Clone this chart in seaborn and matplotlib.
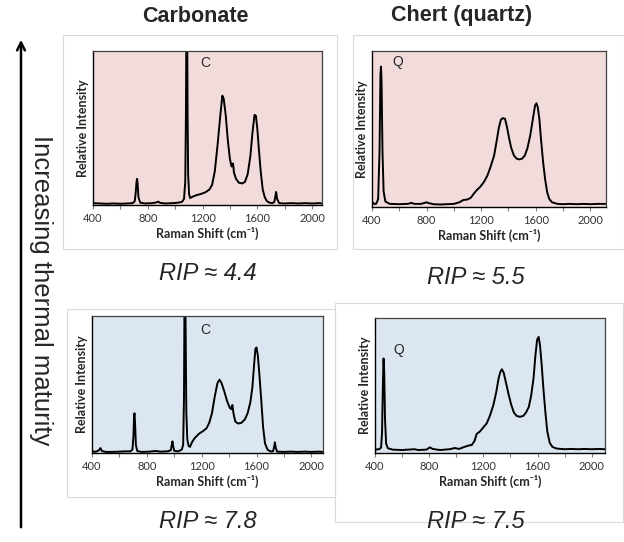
import numpy as np
import matplotlib
matplotlib.use("Agg")
import matplotlib.pyplot as plt
import seaborn as sns
from matplotlib.patches import Rectangle, FancyArrowPatch
from matplotlib.ticker import MultipleLocator

# spectra (shift in cm-1, intensity as fraction of axis height)
carb1_shift = [400, 450, 500, 550, 600, 650, 690, 705, 712, 718, 722, 726, 732, 745, 780, 830, 860, 876, 890,
               930, 980, 1020, 1050, 1065, 1074, 1079, 1082, 1085, 1088, 1091, 1095, 1102, 1110, 1130, 1160,
               1190, 1220, 1250, 1270, 1290, 1310, 1330, 1345, 1355, 1370, 1385, 1400, 1412, 1418, 1423, 1430,
               1445, 1465, 1490, 1510, 1530, 1550, 1565, 1580, 1590, 1600, 1612, 1625, 1640, 1655, 1670, 1690,
               1710, 1725, 1733, 1738, 1745, 1760, 1800, 1850, 1900, 1950, 2000, 2050, 2080]
carb1_int = [0.012, 0.010, 0.008, 0.010, 0.008, 0.010, 0.012, 0.025, 0.08, 0.15, 0.17, 0.14, 0.05, 0.015, 0.010,
             0.012, 0.016, 0.022, 0.014, 0.010, 0.012, 0.015, 0.02, 0.04, 0.15, 0.6, 1.1, 1.3, 1.2, 0.6, 0.2,
             0.07, 0.045, 0.055, 0.065, 0.072, 0.082, 0.10, 0.13, 0.22, 0.39, 0.58, 0.71, 0.69, 0.58, 0.42,
             0.30, 0.25, 0.255, 0.27, 0.21, 0.17, 0.145, 0.14, 0.15, 0.20, 0.32, 0.47, 0.585, 0.58, 0.50, 0.36,
             0.22, 0.10, 0.05, 0.025, 0.015, 0.012, 0.02, 0.06, 0.085, 0.04, 0.012, 0.010, 0.012, 0.010, 0.012,
             0.010, 0.012, 0.010]

chert1_shift = [400, 415, 430, 445, 455, 462, 466, 470, 477, 485, 498, 530, 600, 660, 690, 710, 760, 800, 815,
                850, 900, 950, 1000, 1040, 1070, 1100, 1125, 1150, 1170, 1194, 1220, 1245, 1270, 1295, 1315,
                1330, 1345, 1360, 1375, 1390, 1405, 1420, 1440, 1460, 1480, 1500, 1520, 1540, 1560, 1580, 1595,
                1605, 1615, 1627, 1640, 1655, 1670, 1685, 1700, 1720, 1760, 1800, 1850, 1900, 1950, 2000, 2050,
                2110]
chert1_int = [0.035, 0.02, 0.02, 0.05, 0.35, 0.85, 0.90, 0.80, 0.35, 0.10, 0.035, 0.02, 0.018, 0.02, 0.026, 0.02,
              0.02, 0.03, 0.025, 0.018, 0.016, 0.018, 0.02, 0.03, 0.045, 0.048, 0.06, 0.09, 0.11, 0.13, 0.16,
              0.20, 0.26, 0.33, 0.43, 0.51, 0.56, 0.57, 0.565, 0.51, 0.44, 0.38, 0.33, 0.31, 0.305, 0.31, 0.33,
              0.38, 0.46, 0.57, 0.65, 0.665, 0.64, 0.56, 0.42, 0.28, 0.17, 0.09, 0.05, 0.03, 0.02, 0.018, 0.02,
              0.018, 0.02, 0.018, 0.02, 0.02]

carb2_shift = [400, 430, 450, 461, 472, 500, 550, 600, 640, 680, 695, 702, 707, 710, 714, 720, 730, 760, 820,
               862, 900, 950, 975, 982, 987, 992, 1000, 1030, 1055, 1065, 1071, 1075, 1079, 1083, 1088, 1095,
               1105, 1115, 1130, 1150, 1180, 1210, 1235, 1255, 1275, 1295, 1315, 1330, 1345, 1365, 1385, 1405,
               1415, 1424, 1432, 1445, 1465, 1490, 1515, 1535, 1555, 1570, 1582, 1592, 1600, 1610, 1622, 1635,
               1648, 1662, 1680, 1700, 1720, 1728, 1734, 1740, 1750, 1800, 1850, 1900, 1950, 2000, 2050, 2090]
carb2_int = [0.01, 0.01, 0.02, 0.036, 0.015, 0.008, 0.008, 0.01, 0.012, 0.012, 0.025, 0.12, 0.27, 0.29, 0.22,
             0.06, 0.015, 0.008, 0.01, 0.015, 0.01, 0.012, 0.02, 0.06, 0.085, 0.05, 0.015, 0.012, 0.025, 0.06,
             0.4, 1.2, 1.3, 0.9, 0.3, 0.1, 0.05, 0.045, 0.08, 0.11, 0.14, 0.16, 0.18, 0.22, 0.29, 0.41, 0.51,
             0.535, 0.51, 0.45, 0.38, 0.33, 0.32, 0.35, 0.29, 0.23, 0.215, 0.22, 0.245, 0.29, 0.37, 0.48, 0.64,
             0.76, 0.77, 0.71, 0.56, 0.38, 0.19, 0.07, 0.025, 0.012, 0.012, 0.04, 0.078, 0.04, 0.01, 0.008,
             0.01, 0.008, 0.01, 0.008, 0.01, 0.008]

chert2_shift = [400, 430, 445, 452, 458, 463, 468, 474, 482, 495, 530, 600, 690, 720, 780, 805, 825, 880, 950,
                990, 1020, 1060, 1090, 1115, 1135, 1150, 1175, 1200, 1225, 1250, 1275, 1295, 1312, 1325, 1337,
                1350, 1365, 1385, 1405, 1425, 1445, 1470, 1495, 1515, 1535, 1552, 1570, 1585, 1597, 1608, 1618,
                1630, 1643, 1658, 1672, 1690, 1710, 1740, 1800, 1850, 1900, 1950, 2000, 2050, 2100]
chert2_int = [0.025, 0.028, 0.04, 0.15, 0.5, 0.70, 0.60, 0.25, 0.07, 0.035, 0.025, 0.022, 0.028, 0.022, 0.025,
              0.042, 0.03, 0.022, 0.028, 0.037, 0.03, 0.045, 0.055, 0.06, 0.09, 0.14, 0.16, 0.19, 0.22, 0.28,
              0.36, 0.45, 0.55, 0.60, 0.62, 0.595, 0.53, 0.44, 0.36, 0.30, 0.275, 0.268, 0.275, 0.30, 0.34,
              0.42, 0.55, 0.73, 0.84, 0.86, 0.80, 0.66, 0.48, 0.30, 0.16, 0.075, 0.045, 0.033, 0.028, 0.03,
              0.028, 0.03, 0.028, 0.03, 0.028]

col_titles = ["Carbonate", "Chert (quartz)"]
rip_labels = ["RIP \u2248 4.4", "RIP \u2248 5.5", "RIP \u2248 7.8", "RIP \u2248 7.5"]
peak_labels = ["C", "Q", "C", "Q"]
x_ticks = [400, 800, 1200, 1600, 2000]

sns.set_style("ticks")
plt.rcParams['font.family'] = ['Lato', 'DejaVu Sans']

W, H = 624, 542
fig = plt.figure(figsize=(W / 100, H / 100), dpi=100)


def rect(l, t, r, b):
    # pixel box -> figure fraction
    return [l / W, 1 - b / H, (r - l) / W, (b - t) / H]


# light grey frames around each pasted panel
for l, t, r, b in [(63, 35, 337, 249), (353, 35, 624, 249), (67, 309, 335, 497), (335, 303, 623, 522)]:
    fig.patches.append(Rectangle((l / W, 1 - b / H), (r - l) / W, (b - t) / H, transform=fig.transFigure,
                                 fill=False, edgecolor='#dadada', lw=0.8))

panels = [
    (carb1_shift, carb1_int, (93, 51, 322, 205), 2073, '#f2dcdb', (1182, 0.92)),
    (chert1_shift, chert1_int, (372, 51, 606, 207), 2115, '#f2dcdb', (547, 0.93)),
    (carb2_shift, carb2_int, (92, 316, 323, 453), 2085, '#dce6f1', (1186, 0.90)),
    (chert2_shift, chert2_int, (375, 318, 605, 453), 2098, '#dce6f1', (535, 0.765)),
]

for i, (xs, ys, box, xmax, bg, lab) in enumerate(panels):
    ax = fig.add_axes(rect(*box))
    ax.set_facecolor(bg)
    sns.lineplot(x=xs, y=ys, ax=ax, color='black', lw=1.4, sort=False)
    ax.set_xlim(400, xmax)
    ax.set_ylim(0, 1)
    ax.set_yticks([])
    ax.set_xticks(x_ticks)
    ax.xaxis.set_minor_locator(MultipleLocator(200))
    ax.tick_params(axis='x', which='both', direction='out', length=3, width=0.8, color='#808080',
                   labelsize=8, labelcolor='#333333', pad=3)
    for s in ['top', 'right']:
        ax.spines[s].set_visible(True)
        ax.spines[s].set_color('#404040')
        ax.spines[s].set_linewidth(0.9)
    for s in ['left', 'bottom']:
        ax.spines[s].set_color('black')
        ax.spines[s].set_linewidth(1.0)
    ax.set_xlabel('Raman Shift (cm\u207b\u00b9)', fontsize=9, fontweight='bold', labelpad=2)
    ax.set_ylabel('Relative Intensity', fontsize=9, fontweight='bold', labelpad=3)
    ax.text(lab[0], lab[1], peak_labels[i], fontsize=10, ha='left', va='center',
            family=['Liberation Sans', 'DejaVu Sans'])

# column headings and RIP values
hf = ['Liberation Sans', 'DejaVu Sans']
fig.text(195 / W, 1 - 16 / H, col_titles[0], ha='center', va='center', fontsize=15.5, fontweight='bold', family=hf)
fig.text(462 / W, 1 - 16 / H, col_titles[1], ha='center', va='center', fontsize=15.5, fontweight='bold', family=hf)
for (cx, cy), txt in zip([(208, 273), (476, 278), (208, 522), (476, 522)], rip_labels):
    fig.text(cx / W, 1 - cy / H, txt, ha='center', va='center', fontsize=17, style='italic', family=hf)

# maturity arrow
fig.patches.append(FancyArrowPatch((21 / W, 1 - 530 / H), (21 / W, 1 - 37 / H), transform=fig.transFigure,
                                   arrowstyle='->', mutation_scale=14, lw=1.8, color='black'))
fig.text(41 / W, 1 - 290 / H, 'Increasing thermal maturity', rotation=-90, ha='center', va='center',
         fontsize=18.5, family=hf)

fig.savefig('out.png', dpi=100)
